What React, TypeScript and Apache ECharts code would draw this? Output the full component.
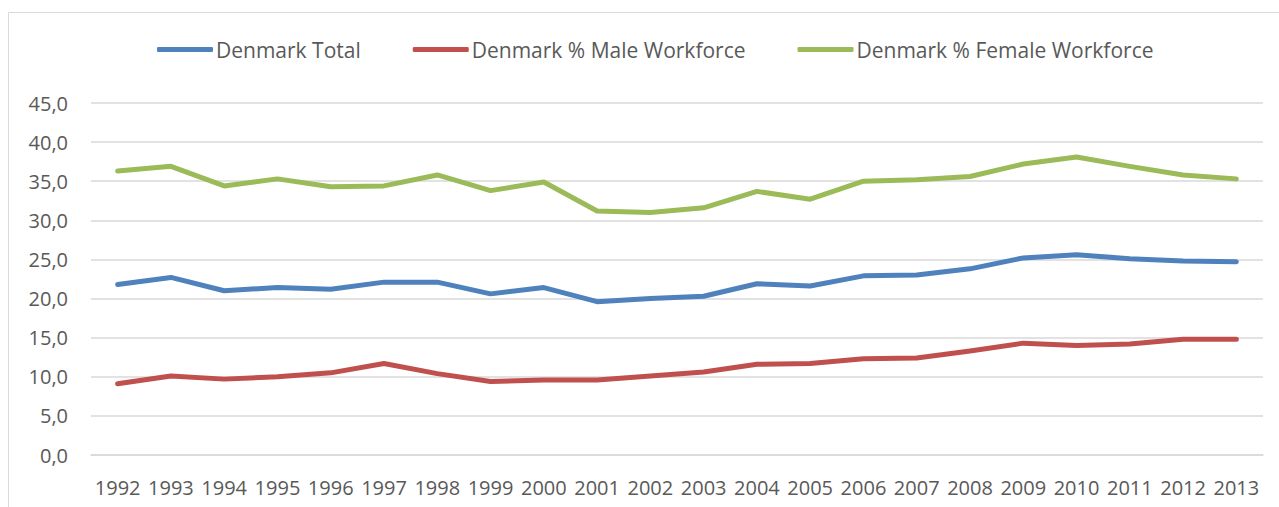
import React, { useEffect, useRef } from "react";
import * as echarts from "echarts";

const years = ["1992","1993","1994","1995","1996","1997","1998","1999","2000","2001","2002","2003","2004","2005","2006","2007","2008","2009","2010","2011","2012","2013"];
const totalValues = [21.8,22.7,21.0,21.4,21.2,22.1,22.1,20.6,21.4,19.6,20.0,20.3,21.9,21.6,22.9,23.0,23.8,25.2,25.6,25.1,24.8,24.7];
const maleValues = [9.1,10.1,9.7,10.0,10.5,11.7,10.4,9.4,9.6,9.6,10.1,10.6,11.6,11.7,12.3,12.4,13.3,14.3,14.0,14.2,14.8,14.8];
const femaleValues = [36.3,36.9,34.4,35.3,34.3,34.4,35.8,33.8,34.9,31.2,31.0,31.6,33.7,32.7,35.0,35.2,35.6,37.2,38.1,36.9,35.8,35.3];
const seriesNames = ["Denmark Total", "Denmark % Male Workforce", "Denmark % Female Workforce"];
const colors = ["#4F81BD", "#C0504D", "#9BBB59"];

export default function App() {
  const ref = useRef<HTMLDivElement>(null);
  useEffect(() => {
    if (!ref.current) return;
    const chart = echarts.init(ref.current, null, { renderer: "svg" });
    const font = "'Open Sans', sans-serif";
    const data = [totalValues, maleValues, femaleValues];
    chart.setOption({
      animation: false,
      textStyle: { fontFamily: font },
      graphic: [
        {
          type: "rect",
          shape: { x: 8.5, y: 12.5, width: 1300, height: 600 },
          style: { fill: "none", stroke: "#D9D9D9", lineWidth: 1 },
          silent: true,
        },
      ],
      legend: {
        top: 34,
        left: 152,
        itemWidth: 56,
        itemHeight: 5,
        itemGap: 52,
        icon: "roundRect",
        textStyle: { fontSize: 21, color: "#595959", fontFamily: font, padding: [0, 0, 0, -2] },
        data: seriesNames,
      },
      grid: { left: 91, right: 16, top: 103, bottom: 52 },
      xAxis: {
        type: "category",
        data: years,
        boundaryGap: true,
        axisLine: { show: true, lineStyle: { color: "#D9D9D9", width: 1.5 } },
        axisTick: { show: false },
        axisLabel: { color: "#595959", fontSize: 20, margin: 22, interval: 0, fontFamily: font },
      },
      yAxis: {
        type: "value",
        min: 0,
        max: 45,
        interval: 5,
        axisLine: { show: false },
        axisTick: { show: false },
        splitLine: { lineStyle: { color: "#D9D9D9", width: 1.5 } },
        axisLabel: {
          color: "#595959",
          fontSize: 20,
          margin: 23,
          fontFamily: font,
          formatter: (v: number) => v.toFixed(1).replace(".", ","),
        },
      },
      series: data.map((d, i) => ({
        name: seriesNames[i],
        type: "line",
        data: d,
        symbol: "none",
        color: colors[i],
        lineStyle: { width: 5, color: colors[i], cap: "round", join: "round" },
        itemStyle: { color: colors[i] },
      })),
    });
    return () => chart.dispose();
  }, []);
  return <div ref={ref} style={{ width: 1279, height: 507, position: "absolute", left: 0, top: 0 }} />;
}
